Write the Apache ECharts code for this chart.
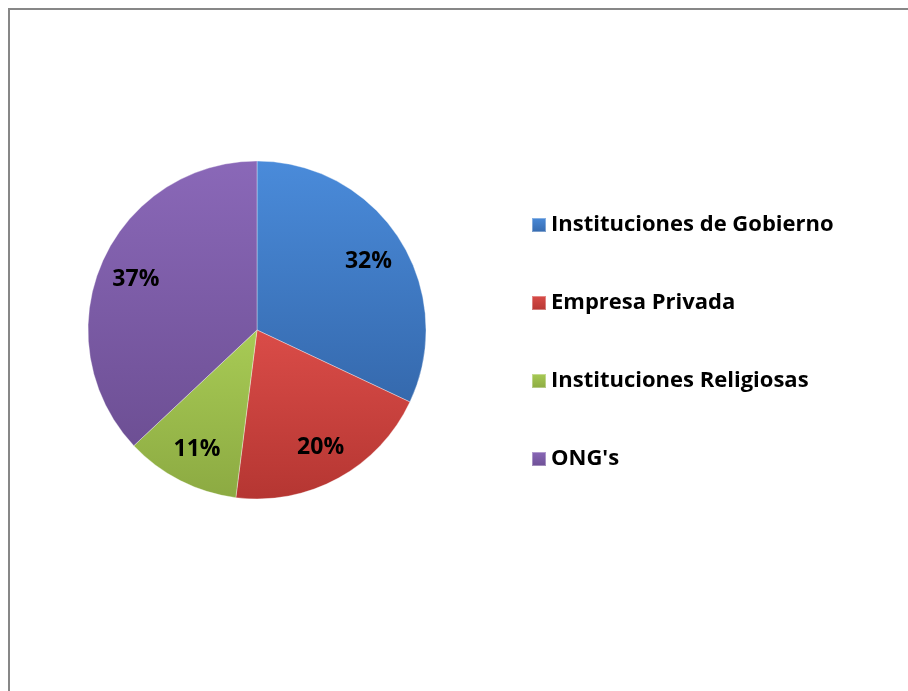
<!DOCTYPE html>
<html>
<head>
<meta charset="utf-8">
<script src="https://cdn.jsdelivr.net/npm/echarts@6/dist/echarts.min.js"></script>
<style>
html,body{margin:0;padding:0;background:#fff;}
#chart{width:908px;height:691px;}
</style>
</head>
<body>
<div id="chart"></div>
<script>
const categories = ['Instituciones de Gobierno', 'Empresa Privada', 'Instituciones Religiosas', "ONG's"];
const values = [32, 20, 11, 37];
const baseColors = [
  ['#4A8BDA', '#3569AD'],
  ['#DA4C48', '#B53632'],
  ['#A8CB55', '#8CAA42'],
  ['#8A68B8', '#6D4F94']
];

function grad(c) {
  return new echarts.graphic.LinearGradient(0, 0, 0, 1, [
    { offset: 0, color: c[0] },
    { offset: 1, color: c[1] }
  ]);
}

const pieData = categories.map((n, i) => ({
  name: n,
  value: values[i],
  itemStyle: { color: grad(baseColors[i]) }
}));
const labelData = categories.map((n, i) => ({ name: n, value: values[i] }));

const chart = echarts.init(document.getElementById('chart'));
chart.setOption({
  animation: false,
  backgroundColor: '#ffffff',
  graphic: [{
    type: 'rect',
    shape: { x: 9, y: 9, width: 1200, height: 1200 },
    style: { fill: 'none', stroke: '#878787', lineWidth: 2 },
    silent: true,
    z: 100
  }],
  legend: {
    orient: 'vertical',
    left: 526,
    top: 209,
    itemWidth: 14,
    itemHeight: 14,
    itemGap: 56,
    icon: 'rect',
    data: categories,
    textStyle: {
      fontFamily: 'Open Sans',
      fontWeight: 'bold',
      fontSize: 22,
      lineHeight: 22,
      color: '#000'
    },
    selectedMode: false
  },
  series: [{
    type: 'pie',
    center: [257, 330],
    radius: [0, 169],
    startAngle: 90,
    clockwise: true,
    data: pieData,
    label: { show: false },
    labelLine: { show: false },
    itemStyle: { borderColor: 'rgba(255,255,255,0.35)', borderWidth: 1 },
    silent: true
  }, {
    type: 'pie',
    center: [257, 332],
    radius: [90, 168],
    startAngle: 90,
    clockwise: true,
    data: labelData,
    itemStyle: { color: 'rgba(0,0,0,0)' },
    label: {
      show: true,
      position: 'inside',
      formatter: '{c}%',
      fontFamily: 'Open Sans',
      fontWeight: 'bold',
      fontSize: 23,
      color: '#000'
    },
    labelLine: { show: false },
    silent: true,
    z: 3
  }]
});
</script>
</body>
</html>
